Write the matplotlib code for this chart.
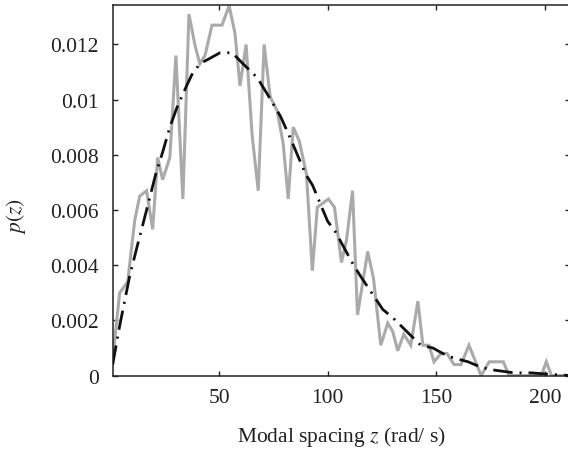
import matplotlib
matplotlib.use("Agg")
import matplotlib.pyplot as plt

# empirical distribution (grey)
z_emp = [0.9, 4.2, 7.9, 11.1, 13.4, 16.6, 19.4, 21.7, 24.0, 27.3, 30.1, 33.3, 36.1,
         38.8, 41.1, 43.5, 46.7, 51.3, 54.6, 57.3, 59.6, 62.4, 65.2, 68.0, 70.7,
         73.5, 76.7, 79.5, 81.8, 84.1, 86.9, 90.2, 92.9, 95.2, 100.3, 103.1, 106.3,
         108.6, 111.4, 113.7, 118.4, 121.1, 124.4, 127.6, 129.9, 132.2, 135.0,
         138.2, 141.5, 143.8, 146.6, 148.9, 152.1, 154.9, 158.1, 161.3, 165.0,
         170.6, 174.3, 180.8, 183.5, 198.3, 200.6, 203.0, 212.0]
p_emp = [0.0005, 0.0030, 0.0034, 0.0056, 0.0065, 0.0067, 0.0053, 0.0079, 0.0071,
         0.0079, 0.0116, 0.0064, 0.0131, 0.0120, 0.0113, 0.0116, 0.0127, 0.0127,
         0.0134, 0.0124, 0.0105, 0.0120, 0.0087, 0.0067, 0.0120, 0.0101, 0.0096,
         0.0084, 0.0064, 0.0090, 0.0085, 0.0073, 0.0038, 0.0061, 0.0064, 0.0061,
         0.0041, 0.0049, 0.0067, 0.0022, 0.0045, 0.0035, 0.0011, 0.0019, 0.0016,
         0.0009, 0.0015, 0.0011, 0.0027, 0.0011, 0.0011, 0.0005, 0.0008, 0.0008,
         0.0004, 0.0004, 0.0011, 0.0, 0.0005, 0.0005, 0.0, 0.0, 0.0005, 0.0, 0.0]

# fitted distribution (black dash-dot)
z_fit = [1, 4.2, 8.8, 12, 14.3, 16.6, 20.8, 24, 27.3, 30.5, 35, 37.4, 41.1, 45.8,
         50.4, 56, 61, 67.5, 72.2, 78.2, 82.8, 89.8, 93, 99.9, 103.6, 111.9, 115.1,
         125.3, 129.9, 142.8, 148.4, 155.3, 164.6, 170.6, 176.6, 185.8, 193.7,
         201.5, 212]
p_fit = [0.0004, 0.0018, 0.0036, 0.0046, 0.0053, 0.0060, 0.0073, 0.0081, 0.0090,
         0.0097, 0.0105, 0.0109, 0.0113, 0.0115, 0.0117, 0.0117, 0.0113, 0.0108,
         0.0102, 0.0094, 0.0086, 0.0073, 0.0069, 0.0056, 0.0052, 0.0040, 0.0036,
         0.0024, 0.0021, 0.0011, 0.0010, 0.0007, 0.0005, 0.0003, 0.0002, 0.0001,
         0.0001, 0.00005, 0.0]

xticks = [50, 100, 150, 200]
yticks = [0, 0.002, 0.004, 0.006, 0.008, 0.01, 0.012]
ytick_labels = ["0", "0.002", "0.004", "0.006", "0.008", "0.01", "0.012"]

plt.rcParams['font.family'] = ['Liberation Serif', 'DejaVu Serif']
plt.rcParams['mathtext.fontset'] = 'stix'
plt.rcParams['lines.scale_dashes'] = False

fig = plt.figure(figsize=(5.68, 4.52), dpi=100)
ax = fig.add_axes([0.1984, 0.1668, 1.0035 - 0.1984, 0.9867 - 0.1668])

ax.plot(z_emp, p_emp, color='#aaaaaa', lw=2.2, solid_joinstyle='miter', zorder=2)
ax.plot(z_fit, p_fit, color='#111111', lw=2.0, dash_capstyle='butt',
        linestyle=(0, (14, 5, 1.5, 5)), zorder=3)

ax.set_xlim(1, 211.5)
ax.set_ylim(0, 0.01343)
ax.set_xticks(xticks)
ax.set_xticklabels([str(t) for t in xticks])
ax.set_yticks(yticks)
ax.set_yticklabels(ytick_labels)
ax.tick_params(direction='in', length=3.5, width=1.0, labelsize=15.5,
               top=True, right=True, colors='#222222')
ax.tick_params(axis='x', pad=9)
ax.tick_params(axis='y', pad=10)
for s in ax.spines.values():
    s.set_linewidth(1.1)
    s.set_color('#222222')

ax.set_xlabel("Modal spacing $z$ (rad/ s)", fontsize=15.5, labelpad=12, color='#222222')
ax.set_ylabel("$p(z)$", fontsize=15.5, color='#222222')
ax.yaxis.set_label_coords(-0.185, 0.433)

fig.savefig("out.png", dpi=100)
